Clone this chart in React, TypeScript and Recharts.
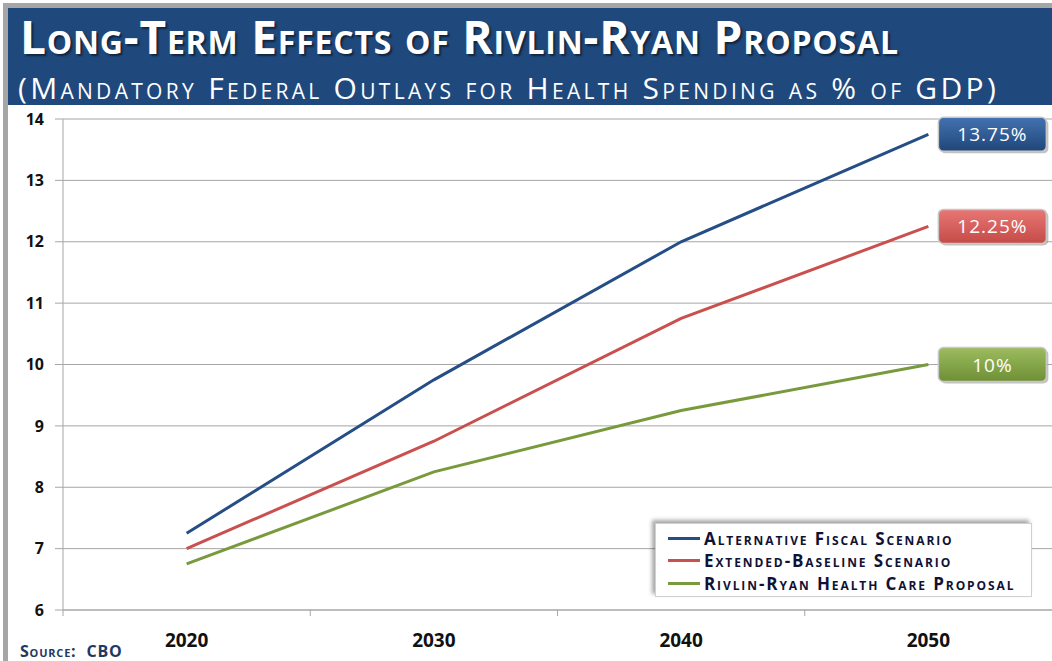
import React from "react";
import { LineChart, Line, XAxis, YAxis, CartesianGrid } from "recharts";

const years = ["2020", "2030", "2040", "2050"];
const altFiscal = [7.25, 9.75, 12, 13.75];
const extBaseline = [7, 8.75, 10.75, 12.25];
const rivlinRyan = [6.75, 8.25, 9.25, 10];
const yTicks = [6, 7, 8, 9, 10, 11, 12, 13, 14];
const endLabels = ["13.75%", "12.25%", "10%"];

const data = years.map((year, i) => ({
  year,
  alt: altFiscal[i],
  ext: extBaseline[i],
  rr: rivlinRyan[i],
}));

const W = 1052;
const H = 661;
const LEFT = 63;
const BAND = (W - LEFT) / years.length;

const series = [
  { key: "alt", name: "Alternative Fiscal Scenario", color: "#254E86", top: "#4472b0", bottom: "#1f4679", label: endLabels[0] },
  { key: "ext", name: "Extended-Baseline Scenario", color: "#C9504E", top: "#e87774", bottom: "#c44b48", label: endLabels[1] },
  { key: "rr", name: "Rivlin-Ryan Health Care Proposal", color: "#789A3C", top: "#9cbc5e", bottom: "#6f8f36", label: endLabels[2] },
];

const font = "'Open Sans', 'DejaVu Sans', sans-serif";

function XTick(props: any) {
  const { x, y, payload } = props;
  return (
    <g>
      <line x1={x - BAND / 2} x2={x - BAND / 2} y1={y} y2={y + 6} stroke="#a6a6a6" />
      <text x={x} y={y + 37} textAnchor="middle" fontFamily={font} fontWeight={700} fontSize={19} fill="#111">
        {payload.value}
      </text>
    </g>
  );
}

function makeEndLabel(s: typeof series[number], idx: number) {
  return (props: any) => {
    const { x, y, index } = props;
    if (index !== years.length - 1) return null;
    const bx = x + 10;
    const by = y - 17;
    return (
      <g>
        <rect x={bx + 2} y={by + 2} width={108} height={34} rx={5} fill="#9a9a9a" opacity={0.6} />
        <rect x={bx} y={by} width={108} height={34} rx={5} fill={`url(#grad${idx})`} stroke="#c8c8c8" strokeWidth={1.5} />
        <text x={bx + 54} y={by + 24} textAnchor="middle" fontFamily={font} fontSize={19} letterSpacing={1} fill="#fff">
          {s.label}
        </text>
      </g>
    );
  };
}

function LegendBox() {
  return (
    <div
      style={{
        position: "absolute",
        left: 655,
        top: 523,
        width: 377,
        height: 74,
        boxSizing: "border-box",
        background: "#fff",
        border: "1px solid #d0d0d0",
        boxShadow: "-3px -3px 4px rgba(0,0,0,0.35)",
        padding: "3px 0 0 12px",
      }}
    >
      {series.map((s) => (
        <div key={s.key} style={{ display: "flex", alignItems: "center", height: 22.5 }}>
          <div style={{ width: 32, height: 3, background: s.color, marginRight: 4 }} />
          <span
            style={{
              fontFamily: font,
              fontWeight: 700,
              fontVariant: "small-caps",
              fontSize: 17,
              color: "#0f1235",
              letterSpacing: 1.9,
              whiteSpace: "nowrap",
            }}
          >
            {s.name}
          </span>
        </div>
      ))}
    </div>
  );
}

export default function App() {
  return (
    <div style={{ position: "absolute", left: 0, top: 0, width: W, height: H, background: "#fff", overflow: "hidden" }}>
      <div style={{ position: "absolute", left: 3, top: 3, width: W - 3, height: 5, background: "#a6a6a6" }} />
      <div style={{ position: "absolute", left: 3, top: 3, width: 5, height: H - 3, background: "#a6a6a6" }} />
      <div style={{ position: "absolute", left: 8, top: 8, width: W - 8, height: 97, background: "#1F497D" }} />
      <div
        style={{
          position: "absolute",
          left: 20,
          top: 11,
          fontFamily: font,
          fontWeight: 700,
          fontVariant: "small-caps",
          fontSize: 46,
          color: "#fff",
          whiteSpace: "nowrap",
          textShadow: "2px 2px 2px rgba(0,0,0,0.5)",
          lineHeight: "50px",
          letterSpacing: 0.8,
        }}
      >
        Long-Term Effects of Rivlin-Ryan Proposal
      </div>
      <div
        style={{
          position: "absolute",
          left: 18,
          top: 71,
          fontFamily: font,
          fontVariant: "small-caps",
          fontSize: 30,
          color: "#fff",
          whiteSpace: "nowrap",
          letterSpacing: 3.3,
          lineHeight: "34px",
        }}
      >
        (Mandatory Federal Outlays for Health Spending as % of GDP)
      </div>
      <div style={{ position: "absolute", left: 0, top: 0 }}>
        <LineChart width={W} height={H} data={data} margin={{ top: 119, right: 0, bottom: 21, left: 0 }}>
          <defs>
            {series.map((s, i) => (
              <linearGradient key={s.key} id={`grad${i}`} x1="0" y1="0" x2="0" y2="1">
                <stop offset="0%" stopColor={s.top} />
                <stop offset="100%" stopColor={s.bottom} />
              </linearGradient>
            ))}
          </defs>
          <CartesianGrid vertical={false} stroke="#a6a6a6" />
          <XAxis
            dataKey="year"
            scale="band"
            height={30}
            stroke="#a6a6a6"
            tickSize={0}
            tickMargin={0}
            tickLine={false}
            tick={<XTick />}
            interval={0}
          />
          <YAxis
            domain={[6, 14]}
            ticks={yTicks}
            width={LEFT}
            stroke="#a6a6a6"
            tickSize={8}
            tickMargin={11}
            tick={{ fontFamily: font, fontWeight: 700, fontSize: 16, fill: "#111" }}
            interval={0}
          />
          {series.map((s, i) => (
            <Line
              key={s.key}
              dataKey={s.key}
              name={s.name}
              stroke={s.color}
              strokeWidth={3}
              dot={false}
              activeDot={false}
              isAnimationActive={false}
              label={makeEndLabel(s, i)}
            />
          ))}
        </LineChart>
      </div>
      <LegendBox />
      <div
        style={{
          position: "absolute",
          left: 20,
          top: 643,
          fontFamily: font,
          fontWeight: 700,
          fontVariant: "small-caps",
          fontSize: 16,
          color: "#1F3864",
          whiteSpace: "nowrap",
          lineHeight: "16px",
          letterSpacing: 0.8,
        }}
      >
        Source:&nbsp; CBO
      </div>
    </div>
  );
}
